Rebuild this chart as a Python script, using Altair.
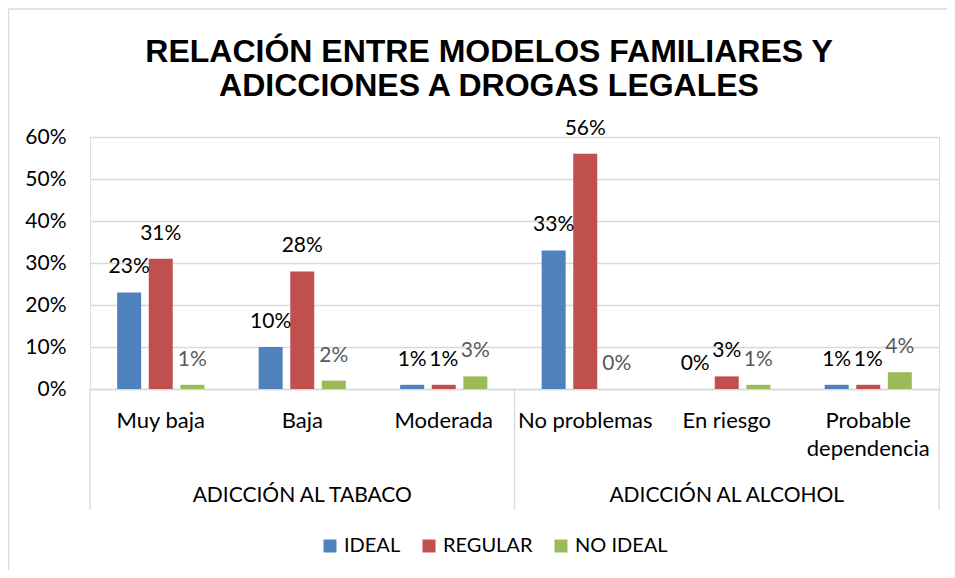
import altair as alt
import pandas as pd

CATEGORIES = ["Muy baja", "Baja", "Moderada", "No problemas", "En riesgo", "Probable dependencia"]
SERIES = ["IDEAL", "REGULAR", "NO IDEAL"]
COLORS = ["#4F81BD", "#C0504D", "#9BBB59"]
IDEAL = [23, 10, 1, 33, 0, 1]
REGULAR = [31, 28, 1, 56, 3, 1]
NO_IDEAL = [1, 2, 3, 0, 1, 4]
GROUPS = ["ADICCIÓN AL TABACO", "ADICCIÓN AL ALCOHOL"]
GROUP_CENTER = ["Baja", "En riesgo"]
TITLE = ["RELACIÓN ENTRE MODELOS FAMILIARES Y", "ADICCIONES A DROGAS LEGALES"]
Y_TICKS = [0, 0.1, 0.2, 0.3, 0.4, 0.5, 0.6]

W, H = 849, 252
FONT = "Lato"
GRID = "#D9D9D9"
FS = 21

rows = []
for s, vals in zip(SERIES, [IDEAL, REGULAR, NO_IDEAL]):
    for c, v in zip(CATEGORIES, vals):
        rows.append({"cat": c, "series": s, "value": v / 100})
df = pd.DataFrame(rows)

xscale = alt.Scale(domain=CATEGORIES, paddingInner=0, paddingOuter=0)
xoff = alt.XOffset("series:N", scale=alt.Scale(domain=SERIES, paddingInner=0.24, paddingOuter=0.86))

x_axis = alt.Axis(
    title=None, labelAngle=0, ticks=False, domain=True, domainColor=GRID, domainWidth=1.3,
    labelFont=FONT, labelFontSize=22, labelColor="black", labelPadding=21, labelLineHeight=28,
    labelExpr="datum.label == 'Probable dependencia' ? ['Probable', 'dependencia'] : datum.label",
    labelLimit=300, grid=False,
)

bars = alt.Chart(df).mark_bar().encode(
    x=alt.X("cat:N", scale=xscale, axis=x_axis, sort=CATEGORIES),
    xOffset=xoff,
    y=alt.Y("value:Q", scale=alt.Scale(domain=[0, 0.6], nice=False),
            axis=alt.Axis(title=None, values=Y_TICKS, format=".0%", ticks=False, domain=False,
                          grid=True, gridColor=GRID, gridWidth=1.3, labelFont=FONT,
                          labelFontSize=FS, labelColor="black", labelPadding=24)),
    color=alt.Color("series:N", scale=alt.Scale(domain=SERIES, range=COLORS),
                    legend=alt.Legend(title=None, orient="none", direction="horizontal",
                                      legendX=230, legendY=399, symbolType="square",
                                      symbolSize=169, symbolStrokeWidth=0, labelFont=FONT,
                                      labelFontSize=20, labelColor="black", labelOffset=4,
                                      columnPadding=18)),
)

labels = alt.Chart(df).mark_text(baseline="alphabetic", dy=-19, font=FONT, fontSize=FS).encode(
    x=alt.X("cat:N", scale=xscale, sort=CATEGORIES),
    xOffset=xoff,
    y=alt.Y("value:Q"),
    text=alt.Text("value:Q", format=".0%"),
    color=alt.condition(alt.datum.series == "NO IDEAL", alt.value("#595959"), alt.value("black")),
)

gdf = pd.DataFrame({"group": GROUPS, "center": GROUP_CENTER})

group_labels = alt.Chart(gdf).mark_text(baseline="alphabetic", font=FONT, fontSize=FS, color="black").encode(
    x=alt.X("center:N", scale=xscale, sort=CATEGORIES),
    y=alt.value(365),
    text="group:N",
)

one = pd.DataFrame({"k": [0]})
sep_left = alt.Chart(one).mark_rule(color=GRID, strokeWidth=1.3).encode(
    x=alt.value(0), y=alt.value(H), y2=alt.value(373))
sep_mid = alt.Chart(one).mark_rule(color=GRID, strokeWidth=1.3).encode(
    x=alt.value(W / 2), y=alt.value(H), y2=alt.value(373))
sep_right = alt.Chart(one).mark_rule(color=GRID, strokeWidth=1.3).encode(
    x=alt.value(W), y=alt.value(H), y2=alt.value(373))

title = alt.Chart(one).mark_text(baseline="alphabetic", align="center", font="Liberation Sans",
                                 fontWeight="bold", fontSize=32, lineHeight=34, color="black").encode(
    x=alt.value(399), y=alt.value(-75), text=alt.value(TITLE),
)

border_top = alt.Chart(one).mark_rule(color=GRID, strokeWidth=1.3).encode(
    x=alt.value(-81.5), x2=alt.value(W + 8), y=alt.value(-128),
)
border_left = alt.Chart(one).mark_rule(color=GRID, strokeWidth=1.3).encode(
    x=alt.value(-81.5), y=alt.value(-128), y2=alt.value(H + 181),
)

chart = alt.layer(border_top, border_left, sep_left, sep_mid, sep_right, bars, labels, group_labels, title).properties(
    width=W, height=H,
    padding={"left": 82, "top": 129, "right": 8, "bottom": 181},
    autosize=alt.AutoSizeParams(type="none"),
).configure_view(stroke=None).configure(background="white")

chart.save("out.html", embed_options={"renderer": "svg", "actions": False})
